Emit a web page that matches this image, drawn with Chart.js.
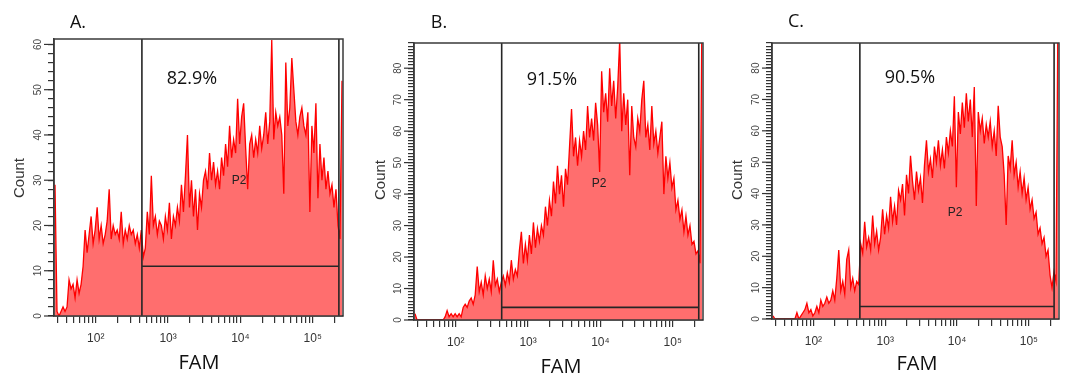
<!DOCTYPE html>
<html>
<head>
<meta charset="utf-8">
<script src="https://cdn.jsdelivr.net/npm/chart.js@4.4.1/dist/chart.umd.min.js"></script>
<style>
  html, body { margin: 0; padding: 0; background: #fff; }
  body { width: 1070px; height: 377px; position: relative; overflow: hidden; }
  canvas { position: absolute; top: 0; }
</style>
</head>
<body>
<canvas id="cA" width="357" height="377" style="left:0px"></canvas>
<canvas id="cB" width="357" height="377" style="left:357px"></canvas>
<canvas id="cC" width="356" height="377" style="left:714px"></canvas>
<script>
// ---------- data ----------
const panelTitles = ['A.', 'B.', 'C.'];
const gatePercents = ['82.9%', '91.5%', '90.5%'];
const gateName = 'P2';
const xTitle = 'FAM';
const yTitle = 'Count';

// FAM range of the log axis and histogram binning (channel layout)
const xMin = 26.5, xMax = 262144, binCount = 144;
const binCenters = Array.from({length: binCount}, (_, i) => xMin * Math.pow(xMax / xMin, (i + 0.5) / binCount));

const countsA = [29,1,0,1,2,1,2,8,6,7,4,8,5,7,11,19,14,18,22,16,19,24,17,20,16,18,21,28,17,20,
  18,19,17,23,16,19,17,20,18,19,16,18,15,19,13,15,23,18,31,20,22,18,21,20,17,22,19,25,17,22,
  20,24,21,29,23,31,40,24,30,22,28,19,27,24,30,32,28,36,30,34,29,32,28,35,31,38,33,42,35,39,
  36,48,38,44,47,37,28,38,40,35,39,36,42,37,40,45,38,43,61,39,45,42,44,40,27,56,42,46,57,50,
  43,40,44,46,42,40,45,23,42,36,47,26,38,30,35,28,32,27,29,24,28,20,17,52];
const countsB = [2,0,0,0,0,0,0,0,0,0,0,0,0,0,0,1,3,1,2,1,2,1,2,1,4,5,4,6,7,5,
  8,17,9,12,8,14,10,13,9,19,11,13,9,12,14,11,15,12,19,13,16,14,22,28,18,24,19,27,21,31,
  23,29,25,30,27,36,30,38,33,44,37,49,40,46,36,48,43,55,67,52,58,49,57,52,60,54,68,58,64,57,
  69,62,47,79,66,72,63,80,68,76,64,74,89,60,72,62,70,46,68,58,55,64,60,70,76,58,62,54,68,56,
  60,53,58,63,40,52,45,50,42,45,35,38,32,35,28,33,27,30,24,25,21,22,18,100];
const countsC = [1,0,0,0,0,0,0,0,0,0,0,0,2,0,1,2,3,5,2,3,1,2,4,2,6,4,5,7,5,6,
  9,6,13,22,9,12,8,19,22,10,13,9,12,11,24,21,31,23,26,22,33,24,28,22,26,35,27,33,29,39,
  31,36,30,41,38,43,33,46,40,52,44,38,47,41,45,37,49,57,47,51,45,55,50,57,49,54,48,58,53,60,
  55,71,42,66,59,69,61,72,63,70,58,74,36,66,60,64,56,62,58,63,55,60,52,68,58,55,46,30,52,48,
  57,46,50,42,47,40,45,38,42,35,38,32,34,27,29,24,26,20,22,14,10,15,12,100];

// gate P2 (interval gate): low / high FAM bound and drawn level on the count axis
const gateLow = [435, 432, 443];
const gateHigh = [230000, 229000, 224000];
const gateLevel = [11, 4, 4];

// axis ticks
const xTickValues = [30,40,50,60,70,80,90,100,200,300,400,500,600,700,800,900,
  1000,2000,3000,4000,5000,6000,7000,8000,9000,10000,20000,30000,40000,50000,60000,70000,80000,90000,
  100000,200000];
const xTickLabels = {100: '10\u00B2', 1000: '10\u00B3', 10000: '10\u2074', 100000: '10\u2075'};
const yMaxes = [61.2, 88, 88];
const yMinorSteps = [2, 1, 1];
const yLabelsA = [0, 10, 20, 30, 40, 50, 60];
const yLabelsBC = [0, 10, 20, 30, 40, 50, 60, 70, 80];

// ---------- layout (per canvas) ----------
const layouts = [
  {w: 357, left: 54, right: 343, top: 39, bottom: 316,
   title: [78, 23], pct: [192, 79], p2: [239, 181], count: [20, 178], fam: [199, 363]},
  {w: 357, left: 57, right: 346, top: 43, bottom: 320,
   title: [82, 23], pct: [195, 80], p2: [242, 184], count: [24, 180], fam: [204, 367]},
  {w: 356, left: 58, right: 345, top: 43, bottom: 319,
   title: [82, 22], pct: [196, 78], p2: [241, 213], count: [24, 180], fam: [203, 364]}
];

const panelText = {
  id: 'panelText',
  afterDraw(chart, args, o) {
    const ctx = chart.ctx, a = chart.chartArea, ys = chart.scales.y;
    ctx.save();
    // frame
    ctx.strokeStyle = '#3a3a3a';
    ctx.lineWidth = 1.5;
    ctx.strokeRect(a.left, a.top, a.right - a.left, a.bottom - a.top);
    // major y ticks + rotated labels
    ctx.lineWidth = 1.2;
    ctx.strokeStyle = '#333';
    ctx.fillStyle = '#444';
    ctx.font = '10px "Liberation Sans", Arial, sans-serif';
    ctx.textAlign = 'center';
    ctx.textBaseline = 'middle';
    o.yLabels.forEach(v => {
      const py = ys.getPixelForValue(v);
      ctx.beginPath(); ctx.moveTo(a.left - 10, py); ctx.lineTo(a.left, py); ctx.stroke();
      ctx.save(); ctx.translate(a.left - 16, py); ctx.rotate(-Math.PI / 2);
      ctx.fillText(String(v), 0, 0); ctx.restore();
    });
    const L = o.layout;
    // Count
    ctx.save();
    ctx.translate(L.count[0], L.count[1]); ctx.rotate(-Math.PI / 2);
    ctx.font = '15px "Liberation Sans", Arial, sans-serif';
    ctx.fillStyle = '#333';
    ctx.fillText(yTitle, 0, 0);
    ctx.restore();
    // FAM
    ctx.fillStyle = '#111';
    ctx.font = '20px "Open Sans", sans-serif';
    ctx.fillText(xTitle, L.fam[0], L.fam[1]);
    // panel title
    ctx.font = '18px "Open Sans", sans-serif';
    ctx.fillText(o.title, L.title[0], L.title[1]);
    // percent
    ctx.font = '18px "Open Sans", sans-serif';
    ctx.fillText(o.pct, L.pct[0], L.pct[1]);
    // P2
    ctx.font = '12px "Liberation Sans", Arial, sans-serif';
    ctx.fillStyle = '#222';
    ctx.fillText(gateName, L.p2[0], L.p2[1]);
    ctx.restore();
  }
};

function makeChart(id, k, counts, yLabels) {
  const L = layouts[k];
  const H = 377;
  const yMax = yMaxes[k];
  const step = yMinorSteps[k];
  const yMinor = [];
  for (let v = 0; v <= yMax; v += step) yMinor.push(v);
  const hist = binCenters.map((x, i) => ({x: x, y: counts[i]}));
  const gate = [
    {x: gateLow[k], y: yMax}, {x: gateLow[k], y: 0}, {x: gateLow[k], y: gateLevel[k]},
    {x: gateHigh[k], y: gateLevel[k]}, {x: gateHigh[k], y: 0}, {x: gateHigh[k], y: yMax}
  ];
  return new Chart(document.getElementById(id), {
    type: 'scatter',
    data: {
      datasets: [
        {data: gate, showLine: true, borderColor: '#262626', borderWidth: 1.6, pointRadius: 0,
         fill: false, order: 1, tension: 0},
        {data: hist, showLine: true, borderColor: '#ff0000', borderWidth: 1.3, pointRadius: 0,
         backgroundColor: '#ff6e6e', fill: 'origin', order: 2, tension: 0}
      ]
    },
    options: {
      responsive: false,
      animation: false,
      events: [],
      layout: {padding: {left: 0, top: L.top, right: L.w - L.right, bottom: 0}},
      plugins: {
        legend: {display: false}, tooltip: {enabled: false},
        panelText: {layout: L, yLabels: yLabels, title: panelTitles[k], pct: gatePercents[k]}
      },
      scales: {
        x: {
          type: 'logarithmic', min: xMin, max: xMax,
          afterBuildTicks: s => { s.ticks = xTickValues.map(v => ({value: v})); },
          afterFit: s => { s.height = H - L.bottom; },
          grid: {drawOnChartArea: false, drawTicks: true, tickLength: 7, color: '#333', lineWidth: 1.2},
          border: {display: true, color: '#3a3a3a', width: 1.5},
          ticks: {
            autoSkip: false, maxRotation: 0, minRotation: 0, padding: 8,
            color: '#333', font: {family: '"Liberation Sans", Arial, sans-serif', size: 12},
            callback: v => xTickLabels[v] || ''
          }
        },
        y: {
          type: 'linear', min: 0, max: yMax,
          afterBuildTicks: s => { s.ticks = yMinor.map(v => ({value: v})); },
          afterFit: s => { s.width = L.left; },
          grid: {drawOnChartArea: false, drawTicks: true, tickLength: 6, color: '#333', lineWidth: 1.2},
          border: {display: true, color: '#3a3a3a', width: 1.5},
          ticks: {display: false}
        }
      }
    },
    plugins: [panelText]
  });
}

makeChart('cA', 0, countsA, yLabelsA);
makeChart('cB', 1, countsB, yLabelsBC);
makeChart('cC', 2, countsC, yLabelsBC);
</script>
</body>
</html>
